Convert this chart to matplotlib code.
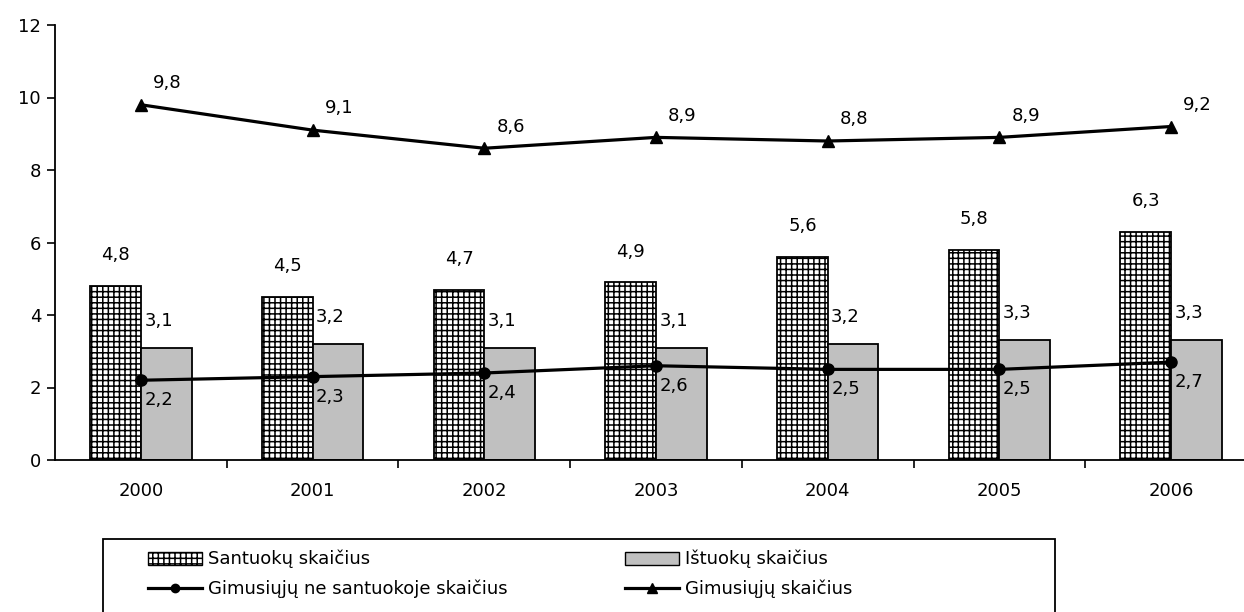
import matplotlib.pyplot as plt
import numpy as np
from matplotlib.patches import Patch, Rectangle
from matplotlib.lines import Line2D

years = ["2000", "2001", "2002", "2003", "2004", "2005", "2006"]
santuoku = [4.8, 4.5, 4.7, 4.9, 5.6, 5.8, 6.3]
istuoku = [3.1, 3.2, 3.1, 3.1, 3.2, 3.3, 3.3]
ne_santuokoje = [2.2, 2.3, 2.4, 2.6, 2.5, 2.5, 2.7]
gimusiuju = [9.8, 9.1, 8.6, 8.9, 8.8, 8.9, 9.2]

plt.rcParams['font.family'] = ['DejaVu Sans']
plt.rcParams['font.size'] = 13
plt.rcParams['hatch.linewidth'] = 1.1
plt.rcParams['hatch.color'] = '#333300'

W, H = 1244, 612

def fmt(v):
    return str(v).replace('.', ',')

fig = plt.figure(figsize=(W / 100, H / 100), dpi=100)
ax = fig.add_axes([55 / W, 152 / H, 1202 / W, 435 / H])

x = np.arange(len(years))
w = 0.295
ax.bar(x - w / 2, santuoku, w, color='white', edgecolor='black', hatch='+++', linewidth=1.3)
ax.bar(x + w / 2, istuoku, w, color='#c0c0c0', edgecolor='black', linewidth=1.3)
ax.plot(x, ne_santuokoje, '-o', color='black', lw=2.3, ms=8)
ax.plot(x, gimusiuju, '-^', color='black', lw=2.3, ms=9)

for i in range(len(years)):
    ax.text(x[i] - w / 2, santuoku[i] + 0.6, fmt(santuoku[i]), ha='center', va='bottom')
    ax.text(x[i] + 0.02, istuoku[i] + 0.5, fmt(istuoku[i]), ha='left', va='bottom')
    ax.text(x[i] + 0.02, ne_santuokoje[i] - 0.3, fmt(ne_santuokoje[i]), ha='left', va='top')
    ax.text(x[i] + 0.07, gimusiuju[i] + 0.35, fmt(gimusiuju[i]), ha='left', va='bottom')

ax.set_xlim(-0.5, 6.5)
ax.set_ylim(0, 12)
ax.set_yticks(range(0, 13, 2))
ax.set_xticks(x)
ax.set_xticklabels(years)
ax.set_xticks(np.arange(0.5, 6.5, 1), minor=True)
ax.tick_params(axis='x', which='major', length=0, pad=16)
ax.tick_params(axis='x', which='minor', length=6, direction='out', width=1.2)
ax.tick_params(axis='y', length=6, direction='out', pad=4, width=1.2)
for s in ['top', 'right']:
    ax.spines[s].set_visible(False)
ax.spines['left'].set_linewidth(1.3)
ax.spines['bottom'].set_linewidth(1.3)

h_sant = Patch(facecolor='white', edgecolor='black', hatch='+++', label='Santuokų skaičius')
h_ist = Patch(facecolor='#c0c0c0', edgecolor='black', label='Ištuokų skaičius')
h_ne = Line2D([], [], color='black', lw=2.3, marker='o', ms=6, label='Gimusiųjų ne santuokoje skaičius')
h_gim = Line2D([], [], color='black', lw=2.3, marker='^', ms=7, label='Gimusiųjų skaičius')

# legend frame drawn separately, two one-column legends inside it
fig.patches.append(Rectangle((103 / W, -0.05), 952 / W, (H - 539) / H + 0.05,
                             transform=fig.transFigure, fill=False,
                             edgecolor='black', linewidth=1.3))
for handles, xpos in [([h_sant, h_ne], 148), ([h_ist, h_gim], 625)]:
    fig.legend(handles=handles, loc='upper left', bbox_to_anchor=(xpos / W, 1 - 550 / H),
               frameon=False, borderpad=0, borderaxespad=0, handlelength=3.0,
               handleheight=0.7, handletextpad=0.35, labelspacing=0.6, fontsize=13)

plt.savefig('out.png', dpi=100)
